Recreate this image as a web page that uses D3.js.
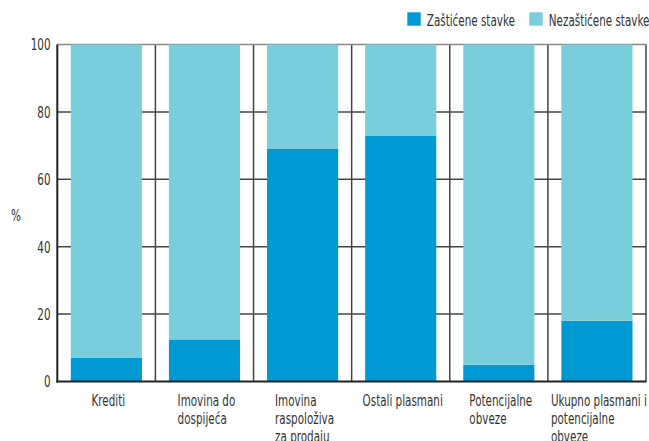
<!DOCTYPE html>
<html><head><meta charset="utf-8">
<script src="https://cdn.jsdelivr.net/npm/d3@7"></script>
<style>
html,body{margin:0;padding:0;background:#fff;}
text{font-family:"DejaVu Sans Condensed","DejaVu Sans",sans-serif;font-stretch:condensed;fill:#333;}
</style></head>
<body><svg id="c" width="649" height="441"></svg>
<script>
const categories = [
  ["Krediti"],
  ["Imovina do","dospijeća"],
  ["Imovina","raspoloživa","za prodaju"],
  ["Ostali plasmani"],
  ["Potencijalne","obveze"],
  ["Ukupno plasmani i","potencijalne","obveze"]
];
const protectedVals = [7, 12.5, 69, 73, 5, 18];
const unprotectedVals = [93, 87.5, 31, 27, 95, 82];
const seriesNames = ["Zaštićene stavke", "Nezaštićene stavke"];
const colors = ["#0099d4", "#7acedb"];
const yTicks = [0, 20, 40, 60, 80, 100];

const svg = d3.select("#c");
const FS = 16;
function measure(s){
  const p = svg.append("text").attr("font-size", FS).text(s);
  const l = p.node().getComputedTextLength(); p.remove(); return l;
}
// horizontal condensing factor derived from two reference strings
const sx = ((81.6 / measure("Ostali plasmani")) + (99 / measure("Nezaštićene stavke"))) / 2;

function txt(g, x0, y0, s, anchor){
  return g.append("g").attr("transform", `translate(${x0},${y0}) scale(${sx},1)`)
    .append("text").attr("font-size", FS).attr("text-anchor", anchor || "start").text(s);
}

const L = 57.3, R = 646, T = 44.5, B = 381.5;
const ids = categories.map((c,i)=>i);
const x = d3.scaleBand().domain(ids).range([L,R]).paddingInner(0.275).paddingOuter(0.1375);
const y = d3.scaleLinear().domain([0,100]).range([B,T]);

// vertical dividers
svg.append("g").selectAll("line").data(d3.range(1,categories.length+1)).join("line")
  .attr("x1", i => L + i*(R-L)/categories.length).attr("x2", i => L + i*(R-L)/categories.length)
  .attr("y1", T).attr("y2", B).attr("stroke", "#444").attr("stroke-width", 1.5);
// horizontal grid
svg.append("g").selectAll("line").data(yTicks.filter(t=>t>0)).join("line")
  .attr("x1", L).attr("x2", R).attr("y1", d=>y(d)).attr("y2", d=>y(d))
  .attr("stroke", d=> d===100 ? "#888" : "#444").attr("stroke-width", 1.5);

// stacked bars
const rows = ids.map(i => ({i, a: protectedVals[i], b: unprotectedVals[i]}));
const stack = d3.stack().keys(["a","b"])(rows);
svg.append("g").selectAll("g").data(stack).join("g")
  .attr("fill", (d,k)=>colors[k])
  .selectAll("rect").data(d=>d).join("rect")
  .attr("x", d=>x(d.data.i)).attr("width", x.bandwidth())
  .attr("y", d=>y(d[1])).attr("height", d=>y(d[0])-y(d[1]));

// axes lines
svg.append("line").attr("x1",L).attr("x2",L).attr("y1",T).attr("y2",B+1).attr("stroke","#222").attr("stroke-width",2);
svg.append("line").attr("x1",L-1).attr("x2",R+0.5).attr("y1",B).attr("y2",B).attr("stroke","#222").attr("stroke-width",2);

// y tick labels
const yg = svg.append("g");
yTicks.forEach(d => txt(yg, 50.5, y(d) + 5.8, d, "end"));
txt(svg, 16, 221, "%", "middle");

// category labels: left-aligned block centered in band
const cg = svg.append("g");
ids.forEach(i => {
  const lines = categories[i];
  const w = d3.max(lines, measure) * sx;
  const cx = x(i) + x.bandwidth()/2 + 2;
  lines.forEach((s,k) => txt(cg, cx - w/2, 405.5 + k*18, s));
});

// legend
const legX = [407.3, 529.3];
seriesNames.forEach((n,k)=>{
  svg.append("rect").attr("x",legX[k]).attr("y",12.3).attr("width",13.4).attr("height",13.4).attr("fill",colors[k]);
  txt(svg, legX[k]+19.5, 26, n);
});
</script></body></html>
